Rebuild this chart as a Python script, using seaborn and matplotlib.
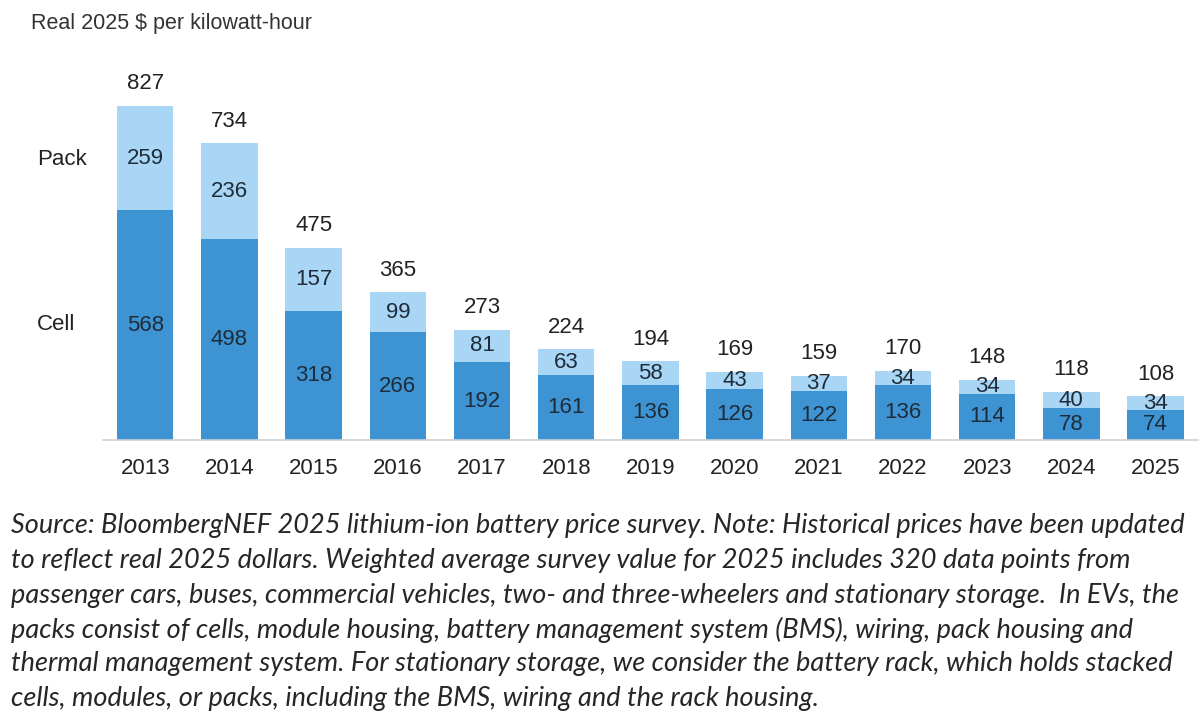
import matplotlib
matplotlib.use("Agg")
import matplotlib.pyplot as plt
import numpy as np
import pandas as pd
import seaborn as sns

# Chart data.
years = ["2013", "2014", "2015", "2016", "2017", "2018", "2019",
         "2020", "2021", "2022", "2023", "2024", "2025"]
cell = [568, 498, 318, 266, 192, 161, 136, 126, 122, 136, 114, 78, 74]
pack = [259, 236, 157, 99, 81, 63, 58, 43, 37, 34, 34, 40, 34]
total = [827, 734, 475, 365, 273, 224, 194, 169, 159, 170, 148, 118, 108]

footnote = [
    "Source: BloombergNEF 2025 lithium-ion battery price survey. Note: Historical prices have been updated",
    "to reflect real 2025 dollars. Weighted average survey value for 2025 includes 320 data points from",
    "passenger cars, buses, commercial vehicles, two- and three-wheelers and stationary storage.  In EVs, the",
    "packs consist of cells, module housing, battery management system (BMS), wiring, pack housing and",
    "thermal management system. For stationary storage, we consider the battery rack, which holds stacked",
    "cells, modules, or packs, including the BMS, wiring and the rack housing.",
]

sns.set_style("white")
plt.rcParams["font.family"] = ["Liberation Sans", "DejaVu Sans"]

df = pd.DataFrame({"year": years, "cell": cell, "pack": pack, "total": total})

light = "#A8D6F4"
dark = "#3E93D3"
label_col = "#1E2C3A"
fs = 16

fig = plt.figure(figsize=(12, 7.27), dpi=100)
ax = fig.add_axes([0.086, 0.395, 0.912, 0.5])

# Stacked bars: full height in light blue, cell part in dark blue on top of it.
sns.barplot(data=df, x="year", y="total", color=light, width=0.67,
            saturation=1, linewidth=0, ax=ax)
sns.barplot(data=df, x="year", y="cell", color=dark, width=0.67,
            saturation=1, linewidth=0, ax=ax)

for i, row in df.iterrows():
    ax.text(i, row["total"] + 55, str(row["total"]), ha="center", va="center",
            fontsize=fs, color="#222222")
    ax.text(i, row["cell"] + row["pack"] / 2, str(row["pack"]), ha="center",
            va="center", fontsize=fs, color=label_col)
    ax.text(i, row["cell"] / 2, str(row["cell"]), ha="center", va="center",
            fontsize=fs, color=label_col)

ax.set_ylim(0, 900)
ax.set_xlim(-0.5, len(years) - 0.5)
ax.set_xlabel("")
ax.set_ylabel("")
ax.set_yticks([])
sns.despine(ax=ax, left=True)
ax.spines["bottom"].set_color("#D0D0D0")
ax.spines["bottom"].set_linewidth(1.2)
ax.tick_params(axis="x", which="major", length=0, pad=13, labelsize=fs,
               labelcolor="#222222")
ax.set_xticks(np.arange(len(years) + 1) - 0.5, minor=True)
ax.tick_params(axis="x", which="minor", length=5, color="#D0D0D0", width=1.2)

# Series labels on the left side
ax.text(-0.99, 693, "Pack", ha="center", va="center", fontsize=fs,
        color="#222222")
ax.text(-1.06, 285, "Cell", ha="center", va="center", fontsize=fs,
        color="#222222")

fig.text(0.026, 0.968, "Real 2025 $ per kilowatt-hour", ha="left", va="center",
         fontsize=15.5, color="#333333")

for k, line in enumerate(footnote):
    fig.text(0.009, 1 - (526 + k * 34.5) / 727, line, ha="left", va="center",
             fontsize=19.5, style="italic", color="#262626",
             family=["Lato", "DejaVu Sans"])

fig.savefig("out.png", dpi=100)
